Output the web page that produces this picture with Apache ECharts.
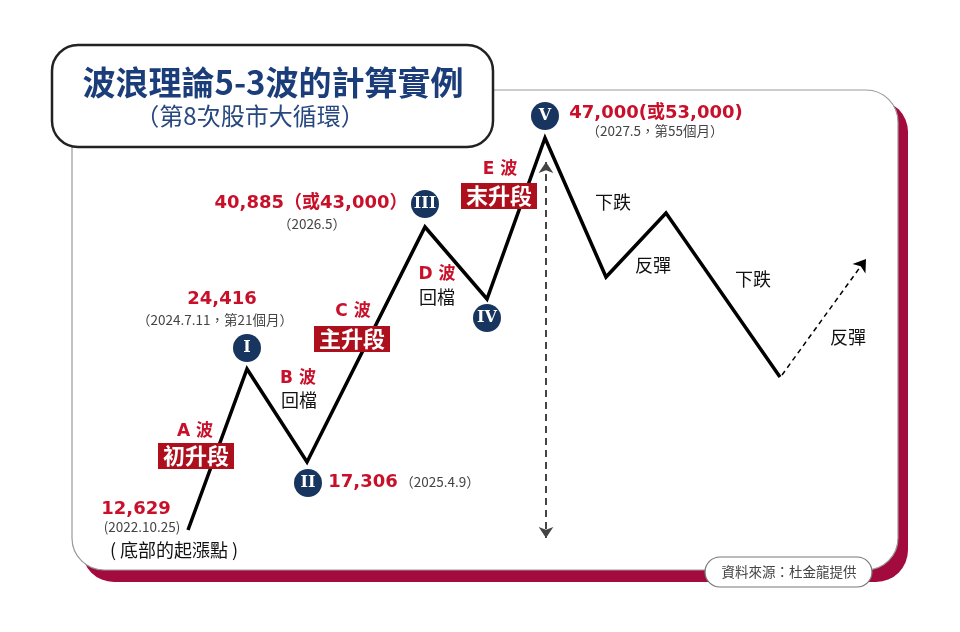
<!DOCTYPE html>
<html>
<head>
<meta charset="utf-8">
<script src="https://cdn.jsdelivr.net/npm/echarts@6/dist/echarts.min.js"></script>
<style>
  html, body { margin: 0; padding: 0; background: #fff; }
  #chart { width: 960px; height: 632px; }
</style>
</head>
<body>
<div id="chart"></div>
<script>
// Tracé schématique (unités du dessin)
const waveX = [188, 247, 307, 425, 487, 545, 606, 666, 780];
const waveY = [530, 369, 462, 227, 299, 138, 277, 213, 377];
const reboundX = [782, 866];
const reboundY = [375, 259];
const rangeX = [546, 546];
const rangeY = [162, 538];

// Repères des vagues
const markerNames = ['I', 'II', 'III', 'IV', 'V'];
const markerX = [247, 308, 425, 487, 545];
const markerY = [348, 483, 204, 318, 116];

// Valeurs de l'indice
const valueTexts = ['12,629', '24,416', '17,306', '40,885（或43,000）', '47,000(或53,000)'];
const valueX = [136, 222, 363, 311, 656];
const valueY = [509, 299, 482, 203, 113];

// Dates
const dateTexts = ['(2022.10.25)', '（2024.7.11，第21個月）', '（2025.4.9）', '（2026.5）', '（2027.5，第55個月）'];
const dateX = [142, 215, 440, 312, 655];
const dateY = [527, 320, 482, 224, 131];

// Noms des vagues
const waveNames = ['A 波', 'B 波', 'C 波', 'D 波', 'E 波'];
const waveNameX = [195, 298, 353, 437, 500];
const waveNameY = [432, 379, 312, 275, 170];

// Étiquettes encadrées
const stageNames = ['初升段', '主升段', '末升段'];
const stageX = [196, 352, 499];
const stageY = [456, 339, 196];

// Notes noires
const noteTexts = ['( 底部的起漲點 )', '回檔', '回檔', '下跌', '反彈', '下跌', '反彈'];
const noteX = [174, 299, 437, 613, 653, 753, 848];
const noteY = [550, 400, 297, 202, 265, 279, 337];

const CJK = '"Noto Sans CJK TC", "Noto Sans", sans-serif';
const WIDE = '"DejaVu Sans", "Noto Sans CJK TC", sans-serif';
const RED = '#c8102a';
const NAVY = '#17355f';

const zip = (xs, ys, names) => xs.map((x, i) => names ? { name: names[i], value: [x, ys[i]] } : [x, ys[i]]);

function textSeries(name, xs, ys, names, label) {
  return {
    name,
    type: 'scatter',
    symbolSize: 0,
    silent: true,
    z: 5,
    itemStyle: { opacity: 1 },
    data: zip(xs, ys, names),
    label: Object.assign({
      show: true,
      position: 'inside',
      formatter: p => p.name,
      fontFamily: CJK,
    }, label),
  };
}

const chart = echarts.init(document.getElementById('chart'));
chart.setOption({
  animation: false,
  backgroundColor: '#fff',
  grid: { left: 0, right: 0, top: 0, bottom: 0 },
  xAxis: { type: 'value', min: 0, max: 960, show: false },
  yAxis: { type: 'value', min: 0, max: 632, inverse: true, show: false },
  graphic: [
    // Cadre
    { type: 'rect', z: -10, shape: { x: 82, y: 100, width: 826, height: 482, r: 32 }, style: { fill: '#a30a3e' } },
    { type: 'rect', z: -9, shape: { x: 72, y: 90, width: 826, height: 480, r: 32 }, style: { fill: '#fff', stroke: '#9a9a9a', lineWidth: 1.2 } },
    // Titre
    { type: 'rect', z: -8, shape: { x: 52, y: 45, width: 441, height: 102, r: 26 }, style: { fill: '#fff', stroke: '#222', lineWidth: 2.5 } },
    { type: 'text', z: -7, x: 273, y: 82, style: { text: '波浪理論5-3波的計算實例', font: 'bold 33px ' + CJK, fill: '#1b3d7a', align: 'center', verticalAlign: 'middle' } },
    { type: 'text', z: -7, x: 250, y: 116, style: { text: '（第8次股市大循環）', font: '24px ' + CJK, fill: '#27477f', align: 'center', verticalAlign: 'middle' } },
    // Source
    { type: 'rect', z: -8, shape: { x: 705, y: 557, width: 167, height: 30, r: 15 }, style: { fill: '#fff', stroke: '#777', lineWidth: 1.2 } },
    { type: 'text', z: -7, x: 789, y: 572, style: { text: '資料來源：杜金龍提供', font: '13.5px ' + CJK, fill: '#444', align: 'center', verticalAlign: 'middle' } },
  ],
  series: [
    {
      name: '波浪',
      type: 'line',
      data: zip(waveX, waveY),
      symbol: 'none',
      silent: true,
      z: 3,
      lineStyle: { color: '#000', width: 3.5, join: 'miter' },
    },
    {
      name: '反彈',
      type: 'lines',
      coordinateSystem: 'cartesian2d',
      silent: true,
      z: 3,
      symbol: ['none', 'arrow'],
      symbolSize: 12,
      data: [{ coords: zip(reboundX, reboundY) }],
      lineStyle: { color: '#000', width: 1.5, type: [5, 4], opacity: 1 },
    },
    {
      name: '區間',
      type: 'lines',
      coordinateSystem: 'cartesian2d',
      silent: true,
      z: 3,
      symbol: ['arrow', 'arrow'],
      symbolSize: 11,
      data: [{ coords: zip(rangeX, rangeY) }],
      lineStyle: { color: '#444', width: 2, type: [7, 5], opacity: 1 },
    },
    {
      name: '波號',
      type: 'scatter',
      symbol: 'circle',
      symbolSize: 28,
      silent: true,
      z: 4,
      itemStyle: { color: NAVY, opacity: 1 },
      data: zip(markerX, markerY, markerNames),
      label: {
        show: true,
        position: 'inside',
        formatter: p => p.name,
        color: '#fff',
        fontFamily: '"DejaVu Serif", "Liberation Serif", serif',
        fontWeight: 'bold',
        fontSize: 16,
      },
    },
    textSeries('數值', valueX, valueY, valueTexts, { color: RED, fontWeight: 'bold', fontSize: 18, fontFamily: WIDE }),
    textSeries('日期', dateX, dateY, dateTexts, { color: '#444', fontSize: 13.5 }),
    textSeries('波名', waveNameX, waveNameY, waveNames, { color: RED, fontWeight: 'bold', fontSize: 17, fontFamily: WIDE }),
    textSeries('階段', stageX, stageY, stageNames, {
      color: '#fff', fontWeight: 'bold', fontSize: 22, backgroundColor: '#ad0f1c', padding: [1, 5, 0, 5], lineHeight: 25,
    }),
    textSeries('說明', noteX, noteY, noteTexts, { color: '#111', fontSize: 18 }),
  ],
});
</script>
</body>
</html>
